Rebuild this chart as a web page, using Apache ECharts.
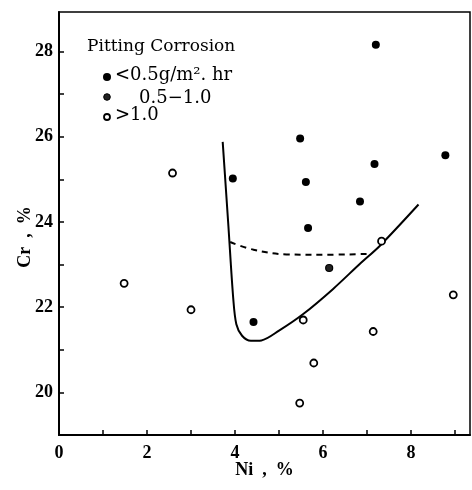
<!DOCTYPE html>
<html>
<head>
<meta charset="utf-8">
<script src="https://cdn.jsdelivr.net/npm/echarts@6/dist/echarts.min.js"></script>
<style>
  html, body { margin: 0; padding: 0; background: #fff; }
  #chart { width: 472px; height: 490px; }
</style>
</head>
<body>
<div id="chart"></div>
<script>
// pitting corrosion rate, Ni % vs Cr %
var lowRate = [ // < 0.5 g/m2.hr
  [7.2, 28.16], [5.48, 25.96], [8.78, 25.57], [3.95, 25.02], [5.61, 24.94],
  [7.17, 25.36], [6.84, 24.48], [5.66, 23.86], [4.42, 21.65]
];
var midRate = [ // 0.5 - 1.0
  [6.14, 22.92]
];
var highRate = [ // > 1.0
  [2.58, 25.15], [1.48, 22.56], [3.0, 21.94], [7.33, 23.55], [8.96, 22.29],
  [5.55, 21.70], [7.14, 21.43], [5.79, 20.69], [5.47, 19.75]
];
var solidBoundary = [
  [3.72, 25.88], [3.85, 23.9], [3.96, 22.2], [4.03, 21.6], [4.16, 21.33],
  [4.36, 21.21], [4.6, 21.22], [5.0, 21.45], [5.55, 21.84], [6.23, 22.43],
  [6.84, 23.02], [7.3, 23.45], [8.17, 24.41]
];
var dashedBoundary = [
  [3.89, 23.53], [4.42, 23.35], [5.17, 23.24], [5.93, 23.23], [6.99, 23.25]
];
var legendTitle = 'Pitting Corrosion';
var legendLabels = ['<0.5g/m\u00b2. hr', '0.5\u22121.0', '>1.0'];

var font = '"Liberation Serif", "DejaVu Serif", serif';
var legendFont = '"DejaVu Serif", serif';
var chart = echarts.init(document.getElementById('chart'));

var option = {
  animation: false,
  grid: {
    left: 59, right: 2, top: 12, bottom: 55,
    show: true, borderColor: '#000', borderWidth: 1.5
  },
  xAxis: {
    type: 'value', min: 0, max: 9.34, interval: 1,
    name: 'Ni  ,  %', nameLocation: 'middle', nameGap: 26, nameMoveOverlap: false,
    nameTextStyle: { fontFamily: font, fontSize: 18, fontWeight: 'bold', color: '#000' },
    axisLine: { lineStyle: { color: '#000', width: 2 } },
    axisTick: { inside: true, length: 5, lineStyle: { color: '#000', width: 1.5 } },
    axisLabel: {
      fontFamily: font, fontSize: 18, fontWeight: 'bold', color: '#000', margin: 9,
      showMaxLabel: false,
      formatter: function (v) { return v % 2 === 0 ? String(v) : ''; }
    },
    splitLine: { show: false }
  },
  yAxis: {
    type: 'value', min: 19, max: 28.93, interval: 1,
    name: 'Cr  ,  %      ', nameLocation: 'middle', nameGap: 25, nameRotate: 90,
    nameMoveOverlap: false,
    nameTextStyle: { fontFamily: font, fontSize: 18, fontWeight: 'bold', color: '#000' },
    axisLine: { show: true, lineStyle: { color: '#000', width: 2 } },
    axisTick: { show: true, inside: true, length: 5, lineStyle: { color: '#000', width: 1.5 } },
    axisLabel: {
      fontFamily: font, fontSize: 18, fontWeight: 'bold', color: '#000', margin: 6,
      showMaxLabel: false,
      formatter: function (v) { return v % 2 === 0 ? String(v) : ''; }
    },
    splitLine: { show: false }
  },
  graphic: [
    { type: 'text', left: 87, top: 38,
      style: { text: legendTitle, font: '17px ' + legendFont, fill: '#000' } },
    { type: 'circle', shape: { cx: 107, cy: 77, r: 4 }, style: { fill: '#000' } },
    { type: 'text', left: 115, top: 66,
      style: { text: legendLabels[0], font: '18px ' + legendFont, fill: '#000' } },
    { type: 'circle', shape: { cx: 107, cy: 97, r: 3.3 }, style: { fill: '#222', stroke: '#000', lineWidth: 1 } },
    { type: 'text', left: 139, top: 89,
      style: { text: legendLabels[1], font: '18px ' + legendFont, fill: '#000' } },
    { type: 'circle', shape: { cx: 107, cy: 117, r: 3 }, style: { fill: '#fff', stroke: '#000', lineWidth: 1.8 } },
    { type: 'text', left: 115, top: 106,
      style: { text: legendLabels[2], font: '18px ' + legendFont, fill: '#000' } }
  ],
  series: [
    {
      type: 'line', data: solidBoundary, smooth: 0.3, showSymbol: false,
      lineStyle: { color: '#000', width: 2 }, z: 1
    },
    {
      type: 'line', data: dashedBoundary, smooth: 0.4, showSymbol: false,
      lineStyle: { color: '#000', width: 2, type: [6, 5] }, z: 1
    },
    {
      type: 'scatter', data: lowRate, symbol: 'circle', symbolSize: 8,
      itemStyle: { color: '#000', opacity: 1 }, z: 3
    },
    {
      type: 'scatter', data: midRate, symbol: 'circle', symbolSize: 7,
      itemStyle: { color: '#222', borderColor: '#000', borderWidth: 1.2, opacity: 1 }, z: 3
    },
    {
      type: 'scatter', data: highRate, symbol: 'circle', symbolSize: 7,
      itemStyle: { color: '#fff', borderColor: '#000', borderWidth: 1.8, opacity: 1 }, z: 3
    }
  ]
};
chart.setOption(option);
</script>
</body>
</html>
